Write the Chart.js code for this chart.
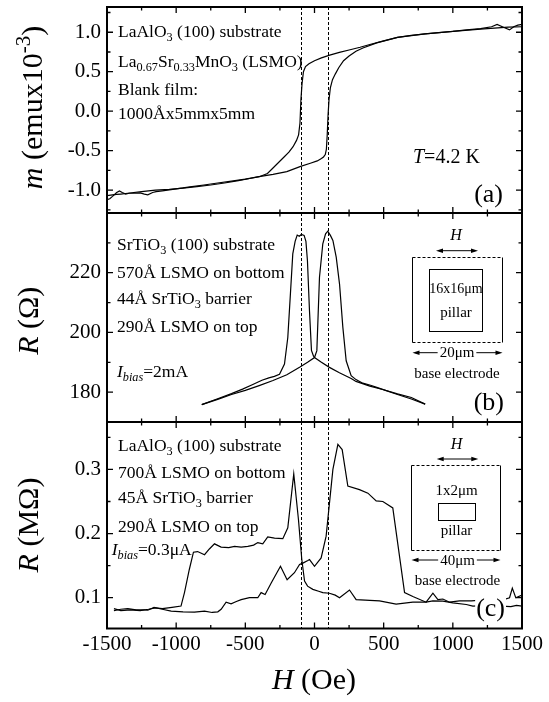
<!DOCTYPE html>
<html>
<head>
<meta charset="utf-8">
<script src="https://cdn.jsdelivr.net/npm/chart.js@4.4.0/dist/chart.umd.min.js"></script>
<style>
html, body { margin: 0; padding: 0; background: #fff; }
#wrap { position: relative; width: 549px; height: 702px; }
canvas { position: absolute; left: 0; }
</style>
</head>
<body>
<div id="wrap">
  <canvas id="cA" width="549" height="214" style="top:0px"></canvas>
  <canvas id="cB" width="549" height="210" style="top:213px"></canvas>
  <canvas id="cC" width="549" height="281" style="top:421px"></canvas>
</div>
<script>
// 刻度
const hTicks = [-1500, -1000, -500, 0, 500, 1000, 1500];
const mTicks = [-1.0, -0.5, 0.0, 0.5, 1.0];
const rbTicks = [180, 200, 220];
const rcTicks = [0.1, 0.2, 0.3];
const coerciveH = [-100, 100];

// (a) 磁化曲线 m(H)，两个扫场方向
const aDownH = [1500, 1470, 1440, 1410, 1370, 1320, 1280, 1200, 1100, 1000,
    900, 800, 700, 600, 500, 400, 330, 250, 180, 110,
    50, 0, -40, -65, -80, -90, -98, -105, -115, -130,
    -155, -185, -220, -260, -300, -340, -400, -460, -550, -650,
    -750, -850, -950, -1050, -1150, -1250, -1350, -1400, -1430, -1460,
    -1500];
const aDownM = [1.10, 1.09, 1.07, 1.03, 1.06, 1.10, 1.07, 1.045, 1.03, 1.01,
    0.995, 0.98, 0.96, 0.935, 0.89, 0.845, 0.81, 0.775, 0.745, 0.71,
    0.675, 0.64, 0.60, 0.565, 0.50, 0.35, 0.15, -0.15, -0.30, -0.37,
    -0.45, -0.52, -0.58, -0.65, -0.72, -0.79, -0.83, -0.85, -0.88, -0.91,
    -0.935, -0.955, -0.975, -0.99, -1.0, -1.02, -1.04, -1.05, -1.055, -1.06,
    -1.07];
const aUpH = [-1500, -1480, -1460, -1430, -1410, -1390, -1365, -1340, -1300, -1260,
    -1230, -1205, -1170, -1145, -1100, -1000, -900, -800, -700, -600,
    -500, -400, -300, -200, -100, -30, 20, 50, 65, 78,
    86, 92, 98, 105, 115, 130, 150, 175, 210, 250,
    300, 350, 450, 600, 800, 1000, 1200, 1400, 1500];
const aUpM = [-1.12, -1.11, -1.08, -1.03, -1.01, -1.03, -1.05, -1.04, -1.04, -1.035,
    -1.05, -1.06, -1.03, -1.02, -1.01, -0.985, -0.96, -0.935, -0.91, -0.885,
    -0.86, -0.83, -0.80, -0.765, -0.70, -0.66, -0.63, -0.60, -0.58, -0.55,
    -0.48, -0.30, -0.05, 0.15, 0.30, 0.40, 0.47, 0.55, 0.64, 0.70,
    0.76, 0.80, 0.865, 0.935, 0.98, 1.01, 1.04, 1.065, 1.07];

// (b) 16x16μm 结 R(H)
const bDownH = [800, 700, 600, 500, 400, 300, 265, 180, 108, 50,
    0, -7, -22, -36, -51, -62, -75, -95, -110, -125,
    -140, -157, -174, -193, -217, -253, -290, -330, -380, -450,
    -520, -600, -700, -815];
const bDownR = [176, 178.2, 179.4, 180.8, 182.0, 183.6, 184.6, 186.5, 188.3, 190,
    191.6, 192, 194, 207, 224, 230.5, 232.5, 232.8, 232.2, 232.6,
    230.5, 226.3, 213, 198.3, 189.4, 186, 185.3, 184.8, 184, 182.5,
    181, 179.5, 177.8, 175.8];
const bUpH = [-815, -700, -600, -500, -400, -300, -200, -108, -50, 0,
    17, 36, 60, 80, 96, 115, 133, 157, 181, 205,
    229, 265, 300, 349, 405, 450, 518, 600, 700, 800];
const bUpR = [175.8, 177.6, 179.2, 180.6, 182.2, 183.9, 185.8, 188.3, 190, 191.6,
    193.9, 218.5, 229.7, 233, 233.9, 232.5, 230.8, 225.2, 216.2, 201.7,
    190.5, 185.5, 184.2, 183, 182.3, 181.6, 180.5, 179.2, 177.7, 176];

// (c) 1x2μm 结 R(H)，单位 MΩ
const cDownH = [-1450, -1400, -1330, -1260, -1200, -1150, -1100, -1030, -965, -940,
    -905, -875, -845, -795, -760, -723, -675, -620, -578, -530,
    -482, -440, -410, -374, -338, -289, -229, -193, -150, -116,
    -92, -72, -50, -12, 30, 60, 108, 150, 181, 253,
    301, 400, 470, 590, 711, 807, 856, 892, 928, 976,
    1048, 1133, 1250, 1350, 1410, 1430, 1455, 1500];
const cDownR = [0.083, 0.080, 0.081, 0.080, 0.082, 0.084, 0.083, 0.085, 0.087, 0.108,
    0.144, 0.171, 0.172, 0.167, 0.176, 0.184, 0.179, 0.178, 0.180, 0.179,
    0.180, 0.182, 0.186, 0.184, 0.195, 0.193, 0.192, 0.209, 0.293, 0.222,
    0.160, 0.126, 0.118, 0.113, 0.110, 0.108, 0.107, 0.104, 0.100, 0.112,
    0.097, 0.096, 0.095, 0.090, 0.093, 0.093, 0.107, 0.097, 0.098, 0.093,
    0.095, 0.095, 0.097, 0.096, 0.100, 0.115, 0.100, 0.104];
const cUpH = [-1450, -1400, -1350, -1290, -1230, -1205, -1160, -1100, -1036, -950,
    -868, -795, -740, -699, -675, -639, -603, -565, -530, -470,
    -410, -386, -357, -313, -246, -198, -145, -108, -84, -48,
    -36, 0, 48, 84, 133, 169, 200, 241, 325, 386,
    446, 494, 566, 651, 711, 807, 856, 928, 1000, 1097,
    1145, 1250, 1350, 1420, 1460, 1500];
const cUpR = [0.080, 0.082, 0.083, 0.081, 0.081, 0.0805, 0.085, 0.082, 0.079, 0.078,
    0.0775, 0.079, 0.077, 0.078, 0.082, 0.093, 0.0905, 0.094, 0.097, 0.100,
    0.100, 0.108, 0.105, 0.123, 0.149, 0.128, 0.139, 0.152, 0.154, 0.158,
    0.1595, 0.149, 0.162, 0.196, 0.300, 0.339, 0.331, 0.274, 0.2685, 0.263,
    0.251, 0.250, 0.240, 0.108, 0.102, 0.093, 0.095, 0.0946, 0.092, 0.0894,
    0.0868, 0.088, 0.087, 0.086, 0.088, 0.087];

const SERIF = '"Liberation Serif", "Times New Roman", Times, serif';

// 带上下标/斜体的文字
function rich(ctx, parts, x, y, size, align = 'left') {
    const items = parts.map(([t, s = '']) => {
        const small = s.includes('_') || s.includes('^');
        const fs = small ? size * 0.7 : size;
        const font = (s.includes('i') ? 'italic ' : '') + fs + 'px ' + SERIF;
        ctx.font = font;
        const dy = s.includes('_') ? size * 0.24 : (s.includes('^') ? -size * 0.4 : 0);
        return { t, font, dy, w: ctx.measureText(t).width };
    });
    const total = items.reduce((sum, it) => sum + it.w, 0);
    let cx = align === 'center' ? x - total / 2 : (align === 'right' ? x - total : x);
    ctx.textAlign = 'left';
    ctx.textBaseline = 'alphabetic';
    ctx.fillStyle = '#000';
    items.forEach(it => { ctx.font = it.font; ctx.fillText(it.t, cx, y + it.dy); cx += it.w; });
    return total;
}

function yTitle(ctx, parts, x, cy) {
    ctx.save();
    ctx.translate(x, cy);
    ctx.rotate(-Math.PI / 2);
    rich(ctx, parts, 0, 0, 30, 'center');
    ctx.restore();
}

function panelLabel(ctx, text, xr, y) {
    ctx.font = '26px ' + SERIF;
    const w = ctx.measureText(text).width;
    ctx.fillStyle = '#fff';
    ctx.fillRect(xr - w - 1, y - 21, w + 2, 27);
    rich(ctx, [[text]], xr, y, 26, 'right');
}

function head(ctx, x, y, dir) {
    ctx.beginPath();
    ctx.moveTo(x, y);
    ctx.lineTo(x - dir * 7, y - 2.3);
    ctx.lineTo(x - dir * 7, y + 2.3);
    ctx.closePath();
    ctx.fill();
}

function arrow(ctx, x1, x2, y) {
    ctx.beginPath(); ctx.moveTo(x1 + 3, y); ctx.lineTo(x2 - 3, y); ctx.stroke();
    head(ctx, x1, y, -1); head(ctx, x2, y, 1);
}

// 样品示意图
function inset(ctx, o) {
    const fs = 15;
    ctx.save();
    ctx.strokeStyle = '#000';
    ctx.fillStyle = '#000';
    ctx.lineWidth = 1;
    rich(ctx, [['H', 'i']], o.cx, o.hY, 16, 'center');
    arrow(ctx, o.a1, o.a2, o.aY);
    const [l, t, r, b] = o.box;
    ctx.beginPath(); ctx.moveTo(l, t); ctx.lineTo(l, b); ctx.moveTo(r, t); ctx.lineTo(r, b); ctx.stroke();
    ctx.setLineDash([3, 2]);
    ctx.beginPath(); ctx.moveTo(l, t); ctx.lineTo(r, t); ctx.moveTo(l, b); ctx.lineTo(r, b); ctx.stroke();
    ctx.setLineDash([]);
    const [il, it, ir, ib] = o.inner;
    ctx.strokeRect(il, it, ir - il, ib - it);
    rich(ctx, [[o.size]], o.cx, o.sizeY, o.sizeFs, 'center');
    rich(ctx, [['pillar']], o.cx, o.pillarY, fs, 'center');
    ctx.font = fs + 'px ' + SERIF;
    const w = ctx.measureText(o.width).width;
    rich(ctx, [[o.width]], o.cx + 1, o.wY + 4.5, fs, 'center');
    ctx.beginPath();
    ctx.moveTo(l + 3, o.wY); ctx.lineTo(o.cx + 1 - w / 2 - 2, o.wY);
    ctx.moveTo(o.cx + 1 + w / 2 + 2, o.wY); ctx.lineTo(r - 3, o.wY);
    ctx.stroke();
    head(ctx, l, o.wY, -1); head(ctx, r, o.wY, 1);
    rich(ctx, [['base electrode']], o.cx + 1, o.baseY, fs, 'center');
    ctx.restore();
}

function series(hs, vs) {
    return {
        data: hs.map((h, i) => ({ x: h, y: vs[i] })),
        borderColor: '#000',
        borderWidth: 1.2,
        pointRadius: 0,
        tension: 0,
        fill: false
    };
}

function makeChart(id, cfg) {
    return new Chart(document.getElementById(id), {
        type: 'line',
        data: { datasets: cfg.series },
        options: {
            responsive: false,
            animation: false,
            events: [],
            layout: { padding: cfg.pad },
            plugins: { legend: { display: false }, tooltip: { enabled: false } },
            scales: {
                x: {
                    type: 'linear', min: -1500, max: 1500, display: cfg.showX,
                    afterBuildTicks: s => { s.ticks = hTicks.map(v => ({ value: v })); },
                    ticks: { font: { family: SERIF, size: 21 }, color: '#000', padding: 3,
                        maxRotation: 0, autoSkip: false, callback: v => String(v) },
                    grid: { display: false, drawTicks: false },
                    border: { display: false },
                    afterFit: s => { s.paddingLeft = 0; s.paddingRight = 0; if (cfg.showX) s.height = 40; }
                },
                y: {
                    type: 'linear', min: cfg.yMin, max: cfg.yMax,
                    afterBuildTicks: s => { s.ticks = cfg.yTicks.map(v => ({ value: v })); },
                    ticks: { font: { family: SERIF, size: 21 }, color: '#000', padding: 6, callback: cfg.fmt },
                    grid: { display: false, drawTicks: false },
                    border: { display: false },
                    afterFit: s => { s.width = 107; s.paddingTop = 0; s.paddingBottom = 0; }
                }
            }
        },
        plugins: [{
            id: 'deco',
            beforeDatasetsDraw(chart) {
                const { ctx, chartArea: a, scales: { x } } = chart;
                ctx.save();
                ctx.strokeStyle = '#000';
                ctx.lineWidth = 1;
                ctx.setLineDash([3, 2]);
                coerciveH.forEach(h => {
                    const px = Math.round(x.getPixelForValue(h)) + 0.5;
                    ctx.beginPath(); ctx.moveTo(px, a.top); ctx.lineTo(px, a.bottom); ctx.stroke();
                });
                ctx.restore();
            },
            afterDraw(chart) {
                const { ctx, chartArea: a, scales: { x, y } } = chart;
                ctx.save();
                ctx.strokeStyle = '#000';
                ctx.lineWidth = 1.3;
                ctx.beginPath();
                // 向内的刻度线（四边）
                for (let v = x.min; v <= x.max + 1e-6; v += 250) {
                    const px = x.getPixelForValue(v);
                    const len = hTicks.includes(v) ? 6 : 3.5;
                    ctx.moveTo(px, a.top); ctx.lineTo(px, a.top + len);
                    ctx.moveTo(px, a.bottom); ctx.lineTo(px, a.bottom - len);
                }
                let start = cfg.yTicks[0];
                while (start - cfg.yMinor >= y.min) start -= cfg.yMinor;
                for (let v = start; v <= y.max + 1e-9; v += cfg.yMinor) {
                    const py = y.getPixelForValue(v);
                    const major = cfg.yTicks.some(t => Math.abs(t - v) < 1e-6);
                    const len = major ? 6 : 3.5;
                    ctx.moveTo(a.left, py); ctx.lineTo(a.left + len, py);
                    ctx.moveTo(a.right, py); ctx.lineTo(a.right - len, py);
                }
                ctx.stroke();
                ctx.lineWidth = 2;
                ctx.strokeRect(a.left, a.top, a.right - a.left, a.bottom - a.top);
                ctx.restore();
                cfg.draw(ctx);
            }
        }]
    });
}

// (a)
makeChart('cA', {
    series: [series(aDownH, aDownM), series(aUpH, aUpM)],
    pad: { left: 0, right: 27, top: 7, bottom: 1 },
    showX: false,
    yMin: -1.29, yMax: 1.32, yTicks: mTicks, yMinor: 0.25,
    fmt: v => v.toFixed(1),
    draw(ctx) {
        rich(ctx, [['LaAlO'], ['3', '_'], [' (100) substrate']], 118, 37, 17.5);
        rich(ctx, [['La'], ['0.67', '_'], ['Sr'], ['0.33', '_'], ['MnO'], ['3', '_'], [' (LSMO)']], 118, 67, 17.5);
        rich(ctx, [['Blank film:']], 118, 95, 17.5);
        rich(ctx, [['1000Åx5mmx5mm']], 118, 118.5, 17.5);
        rich(ctx, [['T', 'i'], ['=4.2 K']], 413, 163, 20);
        panelLabel(ctx, '(a)', 503, 202);
        yTitle(ctx, [['m', 'i'], [' (emux10'], ['-3', '^'], [')']], 42, 107.5);
    }
});

// (b)
makeChart('cB', {
    series: [series(bDownH, bDownR), series(bUpH, bUpR)],
    pad: { left: 0, right: 27, top: 0, bottom: 1 },
    showX: false,
    yMin: 170, yMax: 240, yTicks: rbTicks, yMinor: 10,
    fmt: v => String(v),
    draw(ctx) {
        rich(ctx, [['SrTiO'], ['3', '_'], [' (100) substrate']], 117, 37, 17.5);
        rich(ctx, [['570Å LSMO on bottom']], 117, 65.3, 17.5);
        rich(ctx, [['44Å SrTiO'], ['3', '_'], [' barrier']], 117, 91, 17.5);
        rich(ctx, [['290Å LSMO on top']], 117, 118.7, 17.5);
        rich(ctx, [['I', 'i'], ['bias', 'i_'], ['=2mA']], 117, 163.7, 17.5);
        inset(ctx, { cx: 456, hY: 27, a1: 436, a2: 478, aY: 37.7,
            box: [412.5, 44.5, 502.5, 129.5], inner: [429.5, 56.5, 482.5, 118.5],
            size: '16x16μm', sizeFs: 14, sizeY: 80, pillarY: 104, width: '20μm', wY: 139.7, baseY: 165.3 });
        panelLabel(ctx, '(b)', 504, 197);
        yTitle(ctx, [['R', 'i'], [' (Ω)']], 38, 107.8);
    }
});

// (c)
makeChart('cC', {
    series: [series(cDownH, cDownR), series(cUpH, cUpR)],
    pad: { left: 0, right: 27, top: 1, bottom: 33.5 },
    showX: true,
    yMin: 0.052, yMax: 0.374, yTicks: rcTicks, yMinor: 0.05,
    fmt: v => v.toFixed(1),
    draw(ctx) {
        rich(ctx, [['LaAlO'], ['3', '_'], [' (100) substrate']], 118, 29.7, 17.5);
        rich(ctx, [['700Å LSMO on bottom']], 118, 57.3, 17.5);
        rich(ctx, [['45Å SrTiO'], ['3', '_'], [' barrier']], 118, 81.7, 17.5);
        rich(ctx, [['290Å LSMO on top']], 118, 110.7, 17.5);
        rich(ctx, [['I', 'i'], ['bias', 'i_'], ['=0.3μA']], 111.7, 134, 17.5);
        inset(ctx, { cx: 456.5, hY: 28, a1: 436.7, a2: 478.3, aY: 38,
            box: [411.5, 44.5, 500.5, 129.5], inner: [438.5, 82.5, 475.5, 99.5],
            size: '1x2μm', sizeFs: 15, sizeY: 74, pillarY: 114, width: '40μm', wY: 139, baseY: 164 });
        panelLabel(ctx, '(c)', 505, 195);
        yTitle(ctx, [['R', 'i'], [' (MΩ)']], 38, 104);
        rich(ctx, [['H', 'i'], [' (Oe)']], 314, 268, 30, 'center');
    }
});
</script>
</body>
</html>
